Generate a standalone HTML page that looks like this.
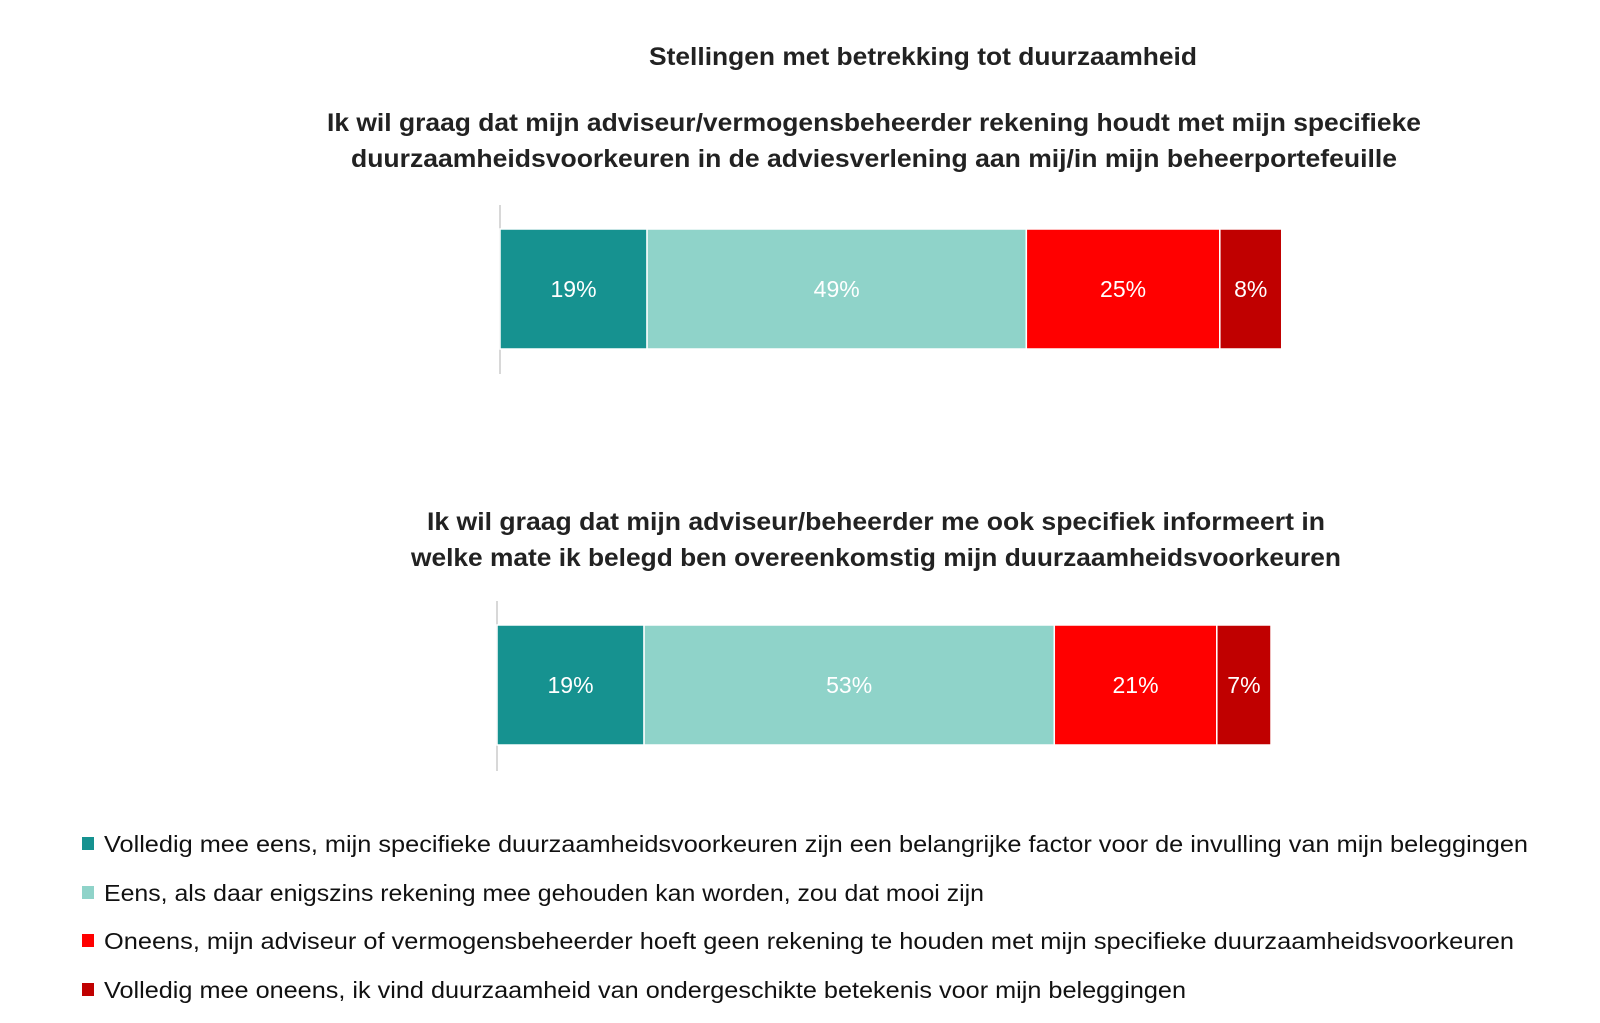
<!DOCTYPE html>
<html><head><meta charset="utf-8"><style>
html,body{margin:0;padding:0;background:#fff;}
svg{display:block;font-family:"Liberation Sans",sans-serif;}
</style></head><body>
<svg id="chart" width="1600" height="1023" viewBox="0 0 1600 1023">
<text x="923" y="65" text-anchor="middle" font-size="25" font-weight="bold" fill="#222" textLength="548" lengthAdjust="spacingAndGlyphs">Stellingen met betrekking tot duurzaamheid</text>
<text x="874" y="131" text-anchor="middle" font-size="25" font-weight="bold" fill="#222" textLength="1094" lengthAdjust="spacingAndGlyphs">Ik wil graag dat mijn adviseur/vermogensbeheerder rekening houdt met mijn specifieke</text>
<text x="874" y="167" text-anchor="middle" font-size="25" font-weight="bold" fill="#222" textLength="1046" lengthAdjust="spacingAndGlyphs">duurzaamheidsvoorkeuren in de adviesverlening aan mij/in mijn beheerportefeuille</text>
<text x="876" y="530" text-anchor="middle" font-size="25" font-weight="bold" fill="#222" textLength="898" lengthAdjust="spacingAndGlyphs">Ik wil graag dat mijn adviseur/beheerder me ook specifiek informeert in</text>
<text x="876" y="566" text-anchor="middle" font-size="25" font-weight="bold" fill="#222" textLength="930" lengthAdjust="spacingAndGlyphs">welke mate ik belegd ben overeenkomstig mijn duurzaamheidsvoorkeuren</text>
<g id="bars"></g>
<g id="legend"></g>
</svg>
<script>
const categories = ["Volledig mee eens", "Eens", "Oneens", "Volledig mee oneens"];
const question1 = [19, 49, 25, 8];
const question2 = [19, 53, 21, 7];
const labels1 = ["19%", "49%", "25%", "8%"];
const labels2 = ["19%", "53%", "21%", "7%"];
const legendLabels = [
 "Volledig mee eens, mijn specifieke duurzaamheidsvoorkeuren zijn een belangrijke factor voor de invulling van mijn beleggingen",
 "Eens, als daar enigszins rekening mee gehouden kan worden, zou dat mooi zijn",
 "Oneens, mijn adviseur of vermogensbeheerder hoeft geen rekening te houden met mijn specifieke duurzaamheidsvoorkeuren",
 "Volledig mee oneens, ik vind duurzaamheid van ondergeschikte betekenis voor mijn beleggingen"
];
const colors = ["#169290", "#8fd3c9", "#ff0000", "#c00000"];
const legendLen = [1424, 880, 1410, 1082];
const NS = "http://www.w3.org/2000/svg";
const pxPerPct = 7.74;
function xScale(v, x0){ return x0 + v * pxPerPct; }
function mk(tag, attrs, parent){ const e = document.createElementNS(NS, tag); for (const k in attrs) e.setAttribute(k, attrs[k]); parent.appendChild(e); return e; }
const barsG = document.getElementById('bars');
function drawBar(vals, labs, x0, y0, h, axTop, axBot, idx){
  const ax = mk('line', {x1:x0, x2:x0, y1:axTop, y2:axBot, stroke:'#ccc', 'stroke-width':1.5}, barsG);
  
  
  let cum = 0;
  vals.forEach((v, i) => {
    const xa = xScale(cum, x0), xb = xScale(cum + v, x0);
    const r = mk('rect', {x:xa, y:y0, width:xb - xa, height:h, fill:colors[i], stroke:'#fff', 'stroke-width':1.5}, barsG);
    
    
    const t = mk('text', {x:(xa + xb) / 2, y:y0 + h / 2 + 8, 'text-anchor':'middle', 'font-size':23, fill:'#fff'}, barsG);
    t.textContent = labs[i];
    
    
    cum += v;
  });
}
drawBar(question1, labels1, 500, 229, 120, 205, 374, 1);
drawBar(question2, labels2, 497, 625, 120, 601, 771, 2);
const legG = document.getElementById('legend');
const legY = [844, 893, 941, 990];
legendLabels.forEach((s, i) => {
  const sq = mk('rect', {x:82, y:legY[i] - 7, width:12, height:13, fill:colors[i]}, legG);
  
  
  const t = mk('text', {x:104, y:legY[i] + 8, 'font-size':23, fill:'#111', textLength:legendLen[i], lengthAdjust:'spacingAndGlyphs'}, legG);
  t.textContent = s;
  
  
});
</script>
</body></html>
